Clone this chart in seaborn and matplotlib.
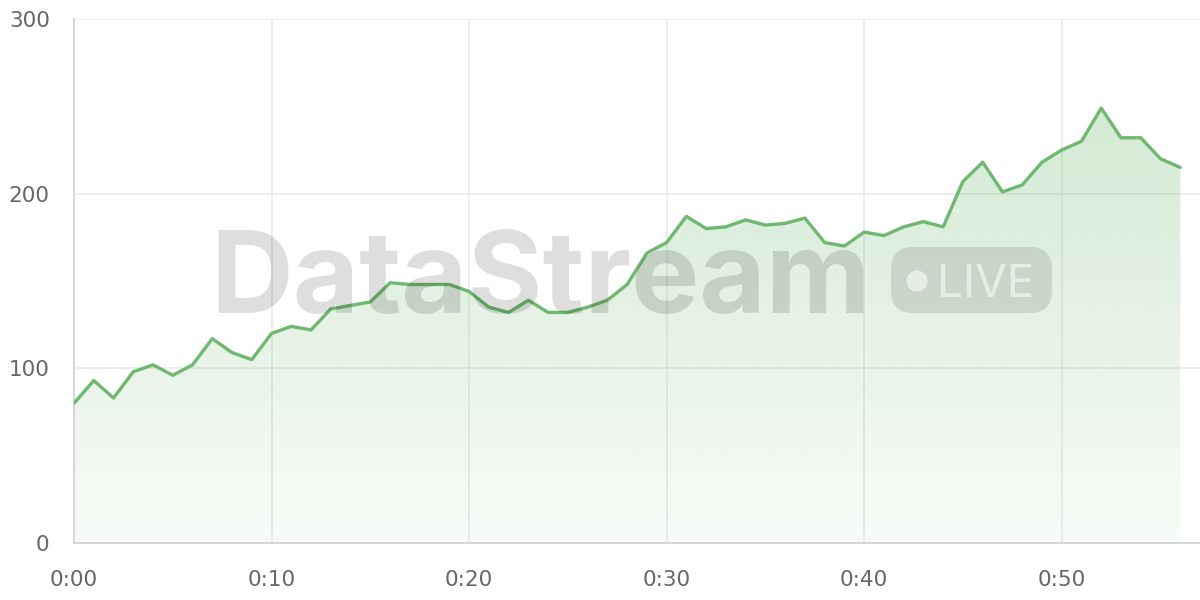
import numpy as np
import pandas as pd
import matplotlib
matplotlib.use("Agg")
import matplotlib.pyplot as plt
import seaborn as sns
from matplotlib.patches import FancyBboxPatch, Circle, Polygon
from matplotlib.transforms import IdentityTransform

# viewers per minute
minutes = list(range(57))
viewers = [80, 93, 83, 98, 102, 96, 102, 117, 109, 105,
           120, 124, 122, 134, 136, 138, 149, 148, 148, 148,
           144, 135, 132, 139, 132, 132, 135, 139, 148, 166,
           172, 187, 180, 181, 185, 182, 183, 186, 172, 170,
           178, 176, 181, 184, 181, 207, 218, 201, 205, 218,
           225, 230, 249, 232, 232, 220, 215]
x_ticks = [0, 10, 20, 30, 40, 50]
x_labels = ["0:00", "0:10", "0:20", "0:30", "0:40", "0:50"]
y_ticks = [0, 100, 200, 300]

GREEN = "#6fb86f"
GRID = "#e8e8e8"

sns.set_style("white")
plt.rcParams['font.family'] = ['DejaVu Sans']

df = pd.DataFrame({"minute": minutes, "viewers": viewers})

fig = plt.figure(figsize=(12, 6), dpi=100)
ax = fig.add_axes([74 / 1200, 57 / 600, 1 - 74 / 1200, 524 / 600])

# gradient fill under the line
grad = np.zeros((256, 1, 4))
rgb = matplotlib.colors.to_rgb(GREEN)
grad[:, 0, :3] = rgb
grad[:, 0, 3] = np.linspace(0.05, 0.30, 256)
top = max(viewers)
img = ax.imshow(grad, extent=[0, minutes[-1], 0, top], origin="lower",
                aspect="auto", zorder=1, interpolation="bilinear")
verts = [(0, 0)] + list(zip(minutes, viewers)) + [(minutes[-1], 0)]
clip = Polygon(verts, closed=True, transform=ax.transData, facecolor="none", edgecolor="none")
ax.add_patch(clip)
img.set_clip_path(clip)

sns.lineplot(data=df, x="minute", y="viewers", ax=ax, color=GREEN, lw=2.4, zorder=3)

ax.set_xlim(0, 57)
ax.set_ylim(0, 300)
ax.set_xticks(x_ticks)
ax.set_xticklabels(x_labels)
ax.set_yticks(y_ticks)
ax.set_xlabel("")
ax.set_ylabel("")
ax.grid(True, color=GRID, lw=1.1, zorder=0)
ax.set_axisbelow(True)
for s in ["top", "right"]:
    ax.spines[s].set_visible(False)
for s in ["left", "bottom"]:
    ax.spines[s].set_color("#d4d4d4")
    ax.spines[s].set_linewidth(1.3)
ax.tick_params(axis="both", length=11.5, width=1.1, color=GRID,
               labelsize=15.5, labelcolor="#666666", pad=6)
ax.tick_params(axis="x", pad=8)

# watermark
fig.text(211 / 1200, 1 - 313 / 600, "DataStream", fontsize=82.5, fontweight="bold",
         family=["Inter", "DejaVu Sans"], color="black", alpha=0.13,
         ha="left", va="baseline", zorder=5)
badge = FancyBboxPatch((891, 287), 161, 66, boxstyle="round,pad=0,rounding_size=22",
                       transform=IdentityTransform(), facecolor="black", alpha=0.11,
                       edgecolor="none", zorder=5)
fig.add_artist(badge)
dot = Circle((917, 319), 10.5, transform=IdentityTransform(), facecolor="white",
             alpha=0.55, edgecolor="none", zorder=6)
fig.add_artist(dot)
fig.text(937 / 1200, 1 - 297 / 600, "LIVE", fontsize=33, family=["Inter", "DejaVu Sans"],
         color="white", alpha=0.55, ha="left", va="baseline", zorder=6)

fig.savefig("out.png", dpi=100)
